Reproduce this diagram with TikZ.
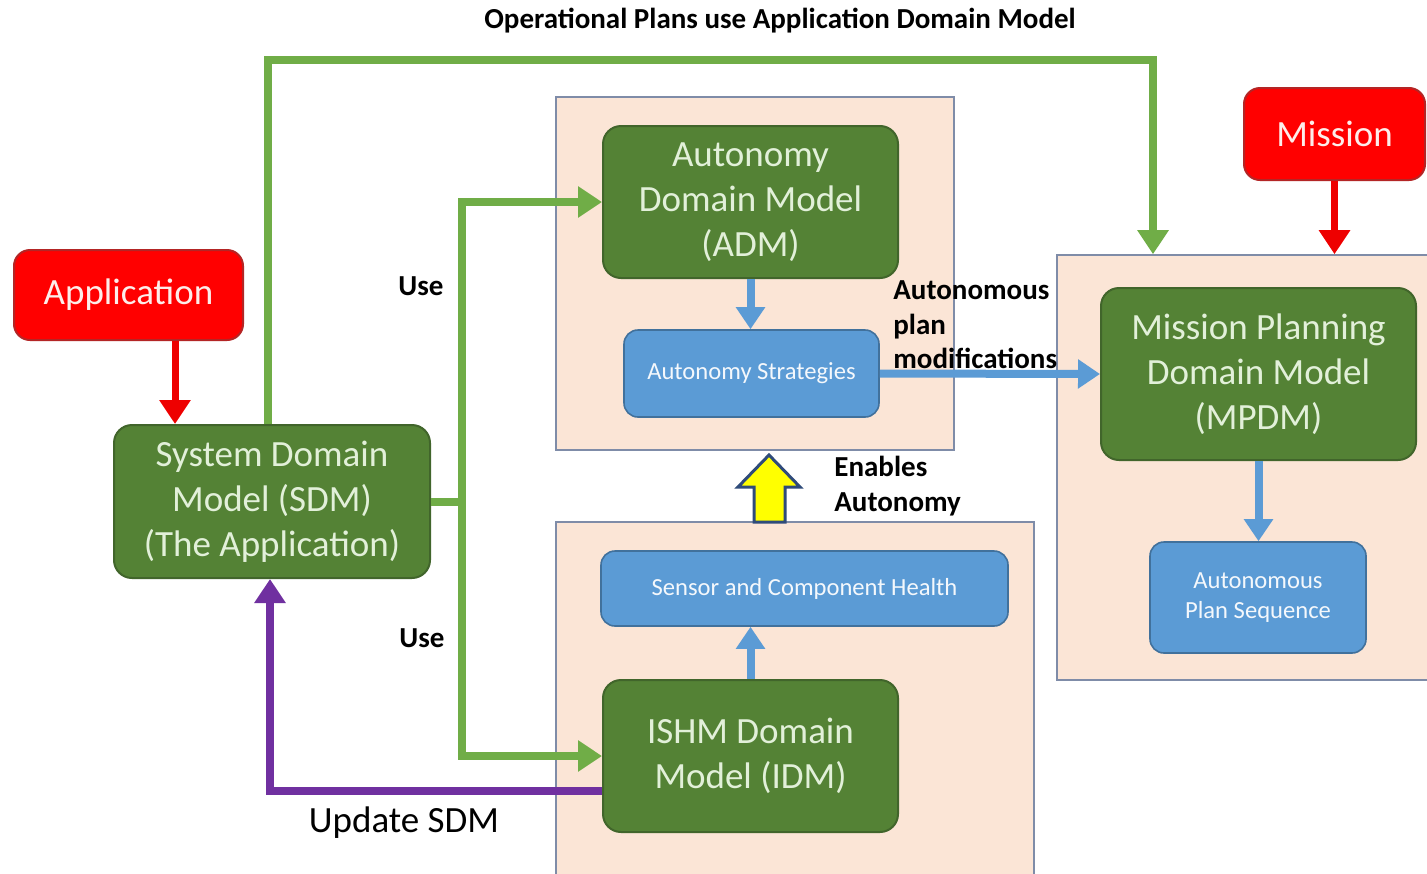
\documentclass[tikz,border=0pt]{standalone}
\usepackage{fontspec}
\setmainfont{Carlito}
\usetikzlibrary{arrows.meta,calc}
\definecolor{gfill}{HTML}{548235}
\definecolor{gline}{HTML}{41652B}
\definecolor{gtext}{HTML}{E2F0D9}
\definecolor{rfill}{HTML}{FF0000}
\definecolor{rline}{HTML}{B42525}
\definecolor{rtext}{HTML}{FDEDEA}
\definecolor{bfill}{HTML}{5B9BD5}
\definecolor{bline}{HTML}{41719C}
\definecolor{btext}{HTML}{F4F8FC}
\definecolor{peach}{HTML}{FBE5D6}
\definecolor{cline}{HTML}{7F8CA8}
\definecolor{garr}{HTML}{70AD47}
\definecolor{parr}{HTML}{7030A0}
\definecolor{barr}{HTML}{5B9BD5}
\definecolor{rarr}{HTML}{EE0000}
\definecolor{yarr}{HTML}{FFFF00}
\definecolor{yline}{HTML}{2F4B7A}
\tikzset{
  big/.style={font=\fontsize{18.5pt}{22.5pt}\selectfont},
  gbox/.style={draw=gline, line width=1pt, fill=gfill, rounded corners=9pt, text=gtext, align=center, big, inner sep=0pt},
  rbox/.style={draw=rline, line width=1pt, fill=rfill, rounded corners=8pt, text=rtext, align=center, big, inner sep=0pt},
  bbox/.style={draw=bline, line width=0.8pt, fill=bfill, rounded corners=7pt, text=btext, align=center, font=\fontsize{12.3pt}{15pt}\selectfont, inner sep=0pt},
  cont/.style={draw=cline, line width=0.8pt, fill=peach, inner sep=0pt},
  lbl/.style={font=\bfseries\fontsize{14.5pt}{17.3pt}\selectfont, align=left, inner sep=0pt},
  garrow/.style={draw=garr, line width=4pt, -{Triangle[length=12pt,width=15pt]}},
  barrow/.style={draw=barr, line width=4pt, -{Triangle[length=11pt,width=14pt]}},
  rarrow/.style={draw=rarr, line width=3.5pt, -{Triangle[length=12pt,width=15pt]}},
  parrow/.style={draw=parr, line width=4pt, -{Triangle[length=12pt,width=15pt]}},
  blockarrow/.style={draw=yline, line width=1.5pt, fill=yarr, line join=miter}
}
\begin{document}
\begin{tikzpicture}[x=0.5pt,y=-0.5pt]
\clip (0,0) rectangle (1427,873);
\fill[white] (0,0) rectangle (1427,873);

% containers
\node[cont, minimum width=199pt, minimum height=176.5pt] (admc) at (755,273.5) {};
\node[cont, minimum width=191.5pt, minimum height=212.5pt] (mpdmc) at (1248.5,467.5) {};
\node[cont, minimum width=239pt, minimum height=184pt] (idmc) at (795,706) {};

% title
\node[lbl, align=center] (title) at (780,21) {Operational Plans use Application Domain Model};

% boxes
\node[rbox, minimum width=114.5pt, minimum height=45pt] (app) at (128.5,295) {Application};
\node[rbox, minimum width=90.5pt, minimum height=46pt] (mission) at (1334.5,134) {Mission};
\node[gbox, minimum width=158pt, minimum height=76.5pt] (sdm) at (272,501.5) {System Domain\\Model (SDM)\\(The Application)};
\node[gbox, minimum width=147.5pt, minimum height=76pt] (adm) at (750.5,202) {Autonomy\\Domain Model\\(ADM)};
\node[bbox, minimum width=127.5pt, minimum height=43.5pt] (strat) at (751.5,373.5) {Autonomy Strategies};
\node[gbox, minimum width=157.5pt, minimum height=86pt] (mpdm) at (1258.5,374) {Mission Planning\\Domain Model\\(MPDM)};
\node[bbox, minimum width=108pt, minimum height=55.5pt] (aps) at (1258,597.5) {Autonomous\\Plan Sequence};
\node[bbox, minimum width=203.5pt, minimum height=37.5pt] (sch) at (804.5,588.5) {Sensor and Component Health};
\node[gbox, minimum width=147.5pt, minimum height=76pt] (idm) at (750.5,756) {ISHM Domain\\Model (IDM)};

% labels
\node[lbl] (use1) at (421,286) {Use};
\node[lbl] (use2) at (422,638) {Use};
\node[lbl, anchor=west] (apm) at (893,325) {Autonomous\\plan\\modifications};
\node[lbl, anchor=west] (ena) at (834,486) {Enables\\Autonomy};
\node[big, inner sep=0pt] (upd) at (404,823) {Update SDM};

% coordinates
\coordinate (usex) at (462,0);
\coordinate (topR) at (1153,60);
\coordinate (ya) at (769,522);
\coordinate (appout) at ($(app.south)+(46.5,0)$);

% green connectors
\draw[garrow] ($(sdm.north)+(-4,0)$) |- (topR) -- (topR |- mpdmc.north);
\draw[garrow] (sdm.east) -- (sdm.east -| usex) |- (adm.west);
\draw[garrow] (sdm.east) -- (sdm.east -| usex) |- (idm.west);

% red connectors
\draw[rarrow] (appout) -- (appout |- sdm.north);
\draw[rarrow] (mission.south) -- (mission.south |- mpdmc.north);

% blue connectors
\draw[barrow] (adm.south) -- (adm.south |- strat.north);
\draw[barrow] (strat.east) -- (mpdm.west);
\draw[barrow] (mpdm.south) -- (mpdm.south |- aps.north);
\draw[barrow] (idm.north) -- (idm.north |- sch.south);

% purple connector
\draw[parrow] ($(idm.west)+(0,35)$) -| ($(sdm.south)+(-2,0)$);

% yellow block arrow
\draw[blockarrow] ($(ya)+(-15,0)$) -- ++(0,-35) -- ++(-16,0) -- ($(ya)+(0,-67)$) -- ($(ya)+(31,-35)$) -- ++(-15,0) -- ($(ya)+(16,0)$) -- cycle;
\end{tikzpicture}
\end{document}
